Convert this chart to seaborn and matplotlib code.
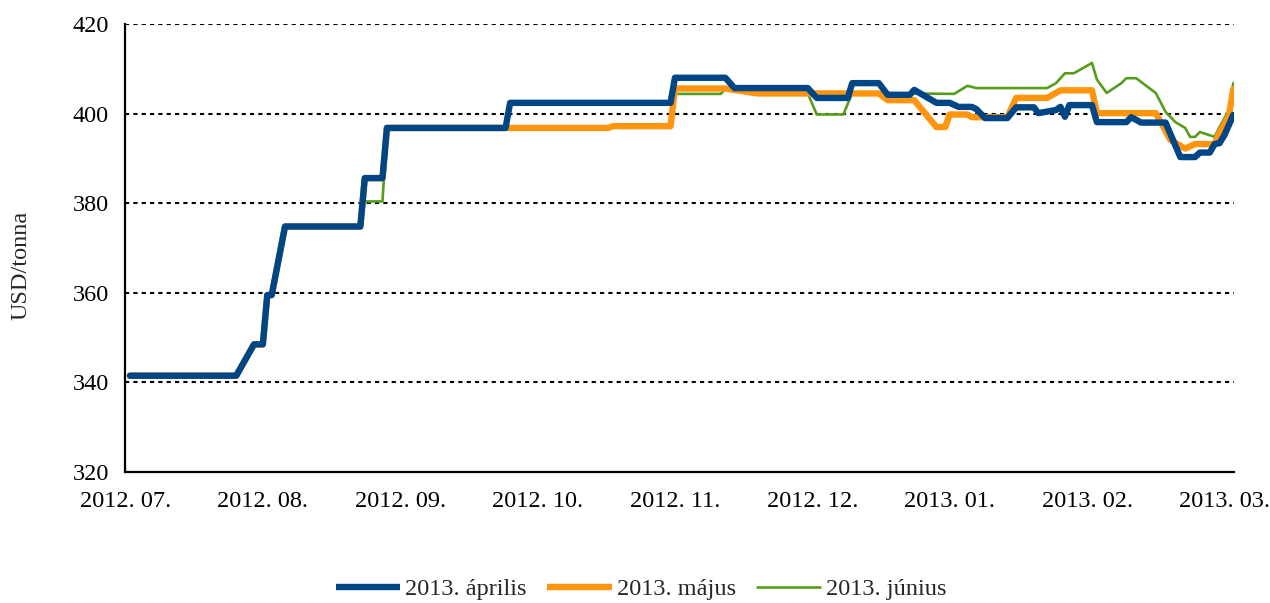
import calendar
import datetime as dt

import matplotlib
matplotlib.use("Agg")
import matplotlib.pyplot as plt
import pandas as pd
import seaborn as sns

# Futures prices (USD/tonna), vertices of each contract's price path
april_dates = [
    "2012-07-02", "2012-07-26", "2012-07-30", "2012-08-01", "2012-08-02", "2012-08-03",
    "2012-08-06", "2012-08-23", "2012-08-24", "2012-08-28", "2012-08-29", "2012-09-24",
    "2012-09-25", "2012-10-31", "2012-11-01", "2012-11-12", "2012-11-14", "2012-11-30",
    "2012-12-02", "2012-12-09", "2012-12-10", "2012-12-16", "2012-12-18", "2012-12-23",
    "2012-12-24", "2012-12-29", "2013-01-01", "2013-01-03", "2013-01-06", "2013-01-07",
    "2013-01-09", "2013-01-14", "2013-01-16", "2013-01-20", "2013-01-21", "2013-01-25",
    "2013-01-26", "2013-01-27", "2013-01-28", "2013-02-02", "2013-02-03", "2013-02-09",
    "2013-02-10", "2013-02-12", "2013-02-17", "2013-02-20", "2013-02-23", "2013-02-24",
    "2013-02-26", "2013-02-27", "2013-02-28", "2013-03-01", "2013-03-03",
]
april_values = [
    341.5, 341.5, 348.5, 348.5, 359.5, 359.5,
    374.8, 374.8, 385.6, 385.6, 396.8, 396.8,
    402.4, 402.4, 408.0, 408.0, 405.7, 405.7,
    403.5, 403.5, 406.8, 406.8, 404.2, 404.2,
    405.3, 402.4, 402.4, 401.5, 401.5, 401.0,
    399.0, 399.0, 401.4, 401.4, 400.1, 400.8,
    401.5, 399.3, 401.9, 401.9, 398.1, 398.1,
    399.2, 398.0, 398.0, 390.3, 390.3, 391.3,
    391.3, 393.2, 393.4, 395.2, 399.7,
]

may_dates = [
    "2012-07-02", "2012-07-26", "2012-07-30", "2012-08-01", "2012-08-02", "2012-08-03",
    "2012-08-06", "2012-08-23", "2012-08-24", "2012-08-28", "2012-08-29", "2012-10-17",
    "2012-10-18", "2012-10-31", "2012-11-01", "2012-11-12", "2012-11-19", "2012-12-16",
    "2012-12-18", "2012-12-24", "2012-12-29", "2012-12-31", "2013-01-01", "2013-01-05",
    "2013-01-06", "2013-01-14", "2013-01-16", "2013-01-23", "2013-01-26", "2013-02-02",
    "2013-02-03", "2013-02-15", "2013-02-18", "2013-02-21", "2013-02-23", "2013-02-27",
    "2013-02-28", "2013-03-02", "2013-03-03",
]
may_values = [
    341.5, 341.5, 348.5, 348.5, 359.5, 359.5,
    374.8, 374.8, 385.6, 385.6, 396.8, 396.8,
    397.2, 397.2, 405.6, 405.6, 404.5, 404.5,
    403.0, 403.0, 397.0, 397.0, 399.8, 399.8,
    399.2, 399.2, 403.5, 403.5, 405.2, 405.2,
    400.1, 400.1, 394.1, 392.2, 393.2, 393.2,
    395.7, 399.5, 405.5,
]

june_dates = [
    "2012-07-02", "2012-07-26", "2012-07-30", "2012-08-01", "2012-08-02", "2012-08-03",
    "2012-08-06", "2012-08-23", "2012-08-24", "2012-08-28", "2012-08-29", "2012-10-17",
    "2012-10-18", "2012-10-31", "2012-11-01", "2012-11-11", "2012-11-12", "2012-11-19",
    "2012-11-30", "2012-12-02", "2012-12-08", "2012-12-10", "2013-01-02", "2013-01-05",
    "2013-01-07", "2013-01-23", "2013-01-25", "2013-01-27", "2013-01-29", "2013-02-02",
    "2013-02-03", "2013-02-05", "2013-02-08", "2013-02-09", "2013-02-11", "2013-02-15",
    "2013-02-17", "2013-02-19", "2013-02-21", "2013-02-22", "2013-02-23", "2013-02-24",
    "2013-02-27", "2013-02-28", "2013-03-02", "2013-03-03",
]
june_values = [
    341.5, 341.5, 348.5, 348.5, 359.5, 359.5,
    374.8, 374.8, 380.4, 380.4, 396.8, 396.8,
    397.2, 397.2, 404.4, 404.4, 405.5, 404.5,
    404.5, 399.8, 399.8, 404.6, 404.4, 406.2,
    405.7, 405.7, 406.8, 409.0, 409.0, 411.3,
    407.6, 404.6, 406.8, 407.9, 407.9, 404.6,
    400.4, 398.1, 396.8, 394.8, 394.8, 395.9,
    394.8, 397.0, 400.8, 406.8,
]

series_names = ["2013. április", "2013. május", "2013. június"]
tick_labels = ["2012. 07.", "2012. 08.", "2012. 09.", "2012. 10.", "2012. 11.",
               "2012. 12.", "2013. 01.", "2013. 02.", "2013. 03."]
y_ticks = [320, 340, 360, 380, 400, 420]


def month_pos(s):
    """Position on an axis where every month has the same width."""
    d = dt.date.fromisoformat(s)
    ndays = calendar.monthrange(d.year, d.month)[1]
    return (d.year - 2012) * 12 + d.month - 7 + (d.day - 1) / ndays


frames = []
for name, dates, vals in [(series_names[0], april_dates, april_values),
                          (series_names[1], may_dates, may_values),
                          (series_names[2], june_dates, june_values)]:
    frames.append(pd.DataFrame({"x": [month_pos(s) for s in dates],
                                "price": vals, "contract": name}))
df = pd.concat(frames, ignore_index=True)

sns.set_style("white")
plt.rcParams["font.family"] = ["Liberation Serif", "DejaVu Serif"]
FS = 17.5
plt.rcParams["font.size"] = FS

fig = plt.figure(figsize=(12.7, 6.03), dpi=100)
ax = fig.add_axes([0.0988, 0.2172, 0.8729, 0.7430])

colors = {series_names[0]: "#004586", series_names[1]: "#ff950e", series_names[2]: "#579d1c"}
widths = {series_names[0]: 4.6, series_names[1]: 4.6, series_names[2]: 1.9}
zorders = {series_names[0]: 5, series_names[1]: 4, series_names[2]: 3}

for name in series_names:
    sub = df[df["contract"] == name]
    sns.lineplot(data=sub, x="x", y="price", ax=ax, color=colors[name],
                 linewidth=widths[name], estimator=None, sort=False,
                 label=name, zorder=zorders[name])

for yv in y_ticks[1:]:
    ax.axhline(yv, color="black", linestyle=(0, (2, 2)), linewidth=1.5, zorder=1)

ax.set_xlim(0, 8.07)
ax.set_ylim(320, 420)
ax.set_yticks(y_ticks)
ax.set_xticks(range(len(tick_labels)))
ax.set_xticklabels(tick_labels)
ax.set_xlabel("")
ax.set_ylabel("USD/tonna", fontsize=FS)
ax.yaxis.set_label_coords(-0.0843, 0.462)

for side in ["top", "right"]:
    ax.spines[side].set_visible(False)
for side in ["left", "bottom"]:
    ax.spines[side].set_color("black")
    ax.spines[side].set_linewidth(1.6)
ax.tick_params(axis="both", direction="out", length=7, width=1.6, color="black",
               labelsize=FS, labelcolor="black")
ax.tick_params(axis="x", pad=7)
ax.tick_params(axis="y", pad=5)

handles, labels = ax.get_legend_handles_labels()
leg = ax.legend(handles, labels, loc="center", bbox_to_anchor=(0.465, -0.262), ncol=3,
                frameon=False, fontsize=FS, handlelength=2.65, columnspacing=0.85,
                handletextpad=0.2)
for h in leg.get_lines():
    h.set_solid_capstyle("butt")

fig.savefig("out.png", dpi=100)
